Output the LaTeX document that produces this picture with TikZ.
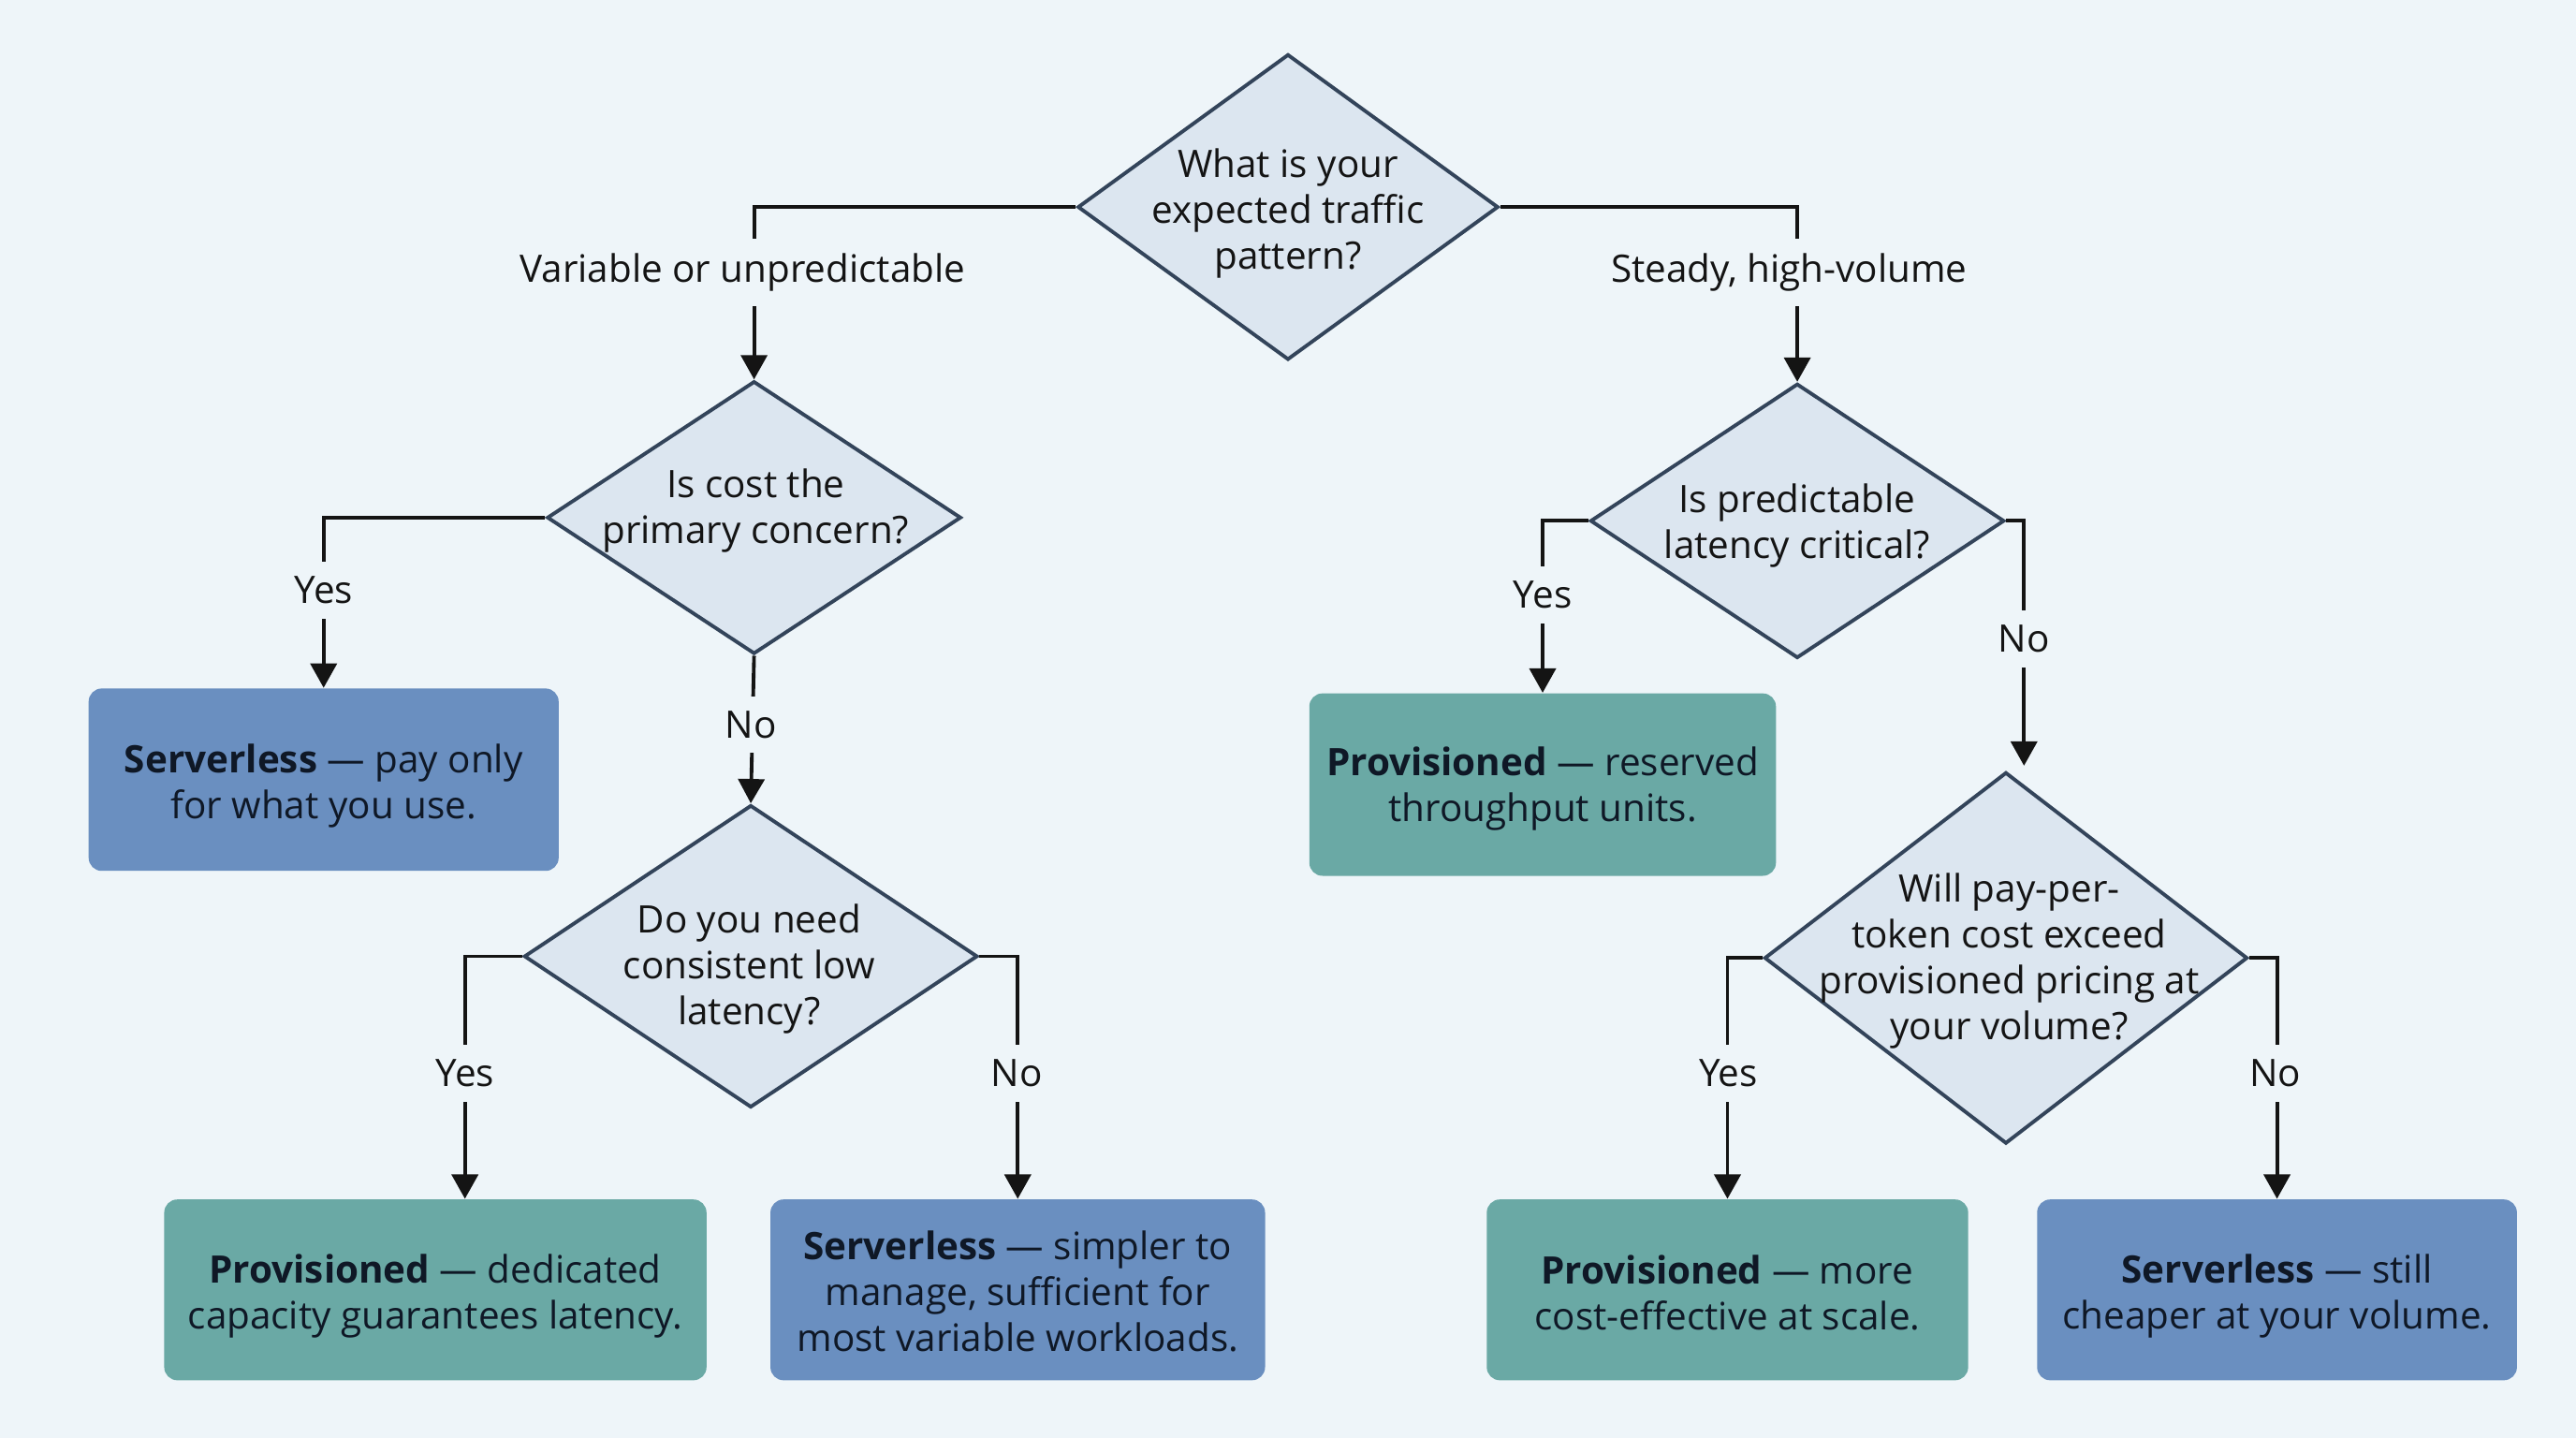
\documentclass[tikz,border=0pt]{standalone}
\usepackage{fontspec}
\setmainfont{Open Sans}
\usetikzlibrary{shapes.geometric,arrows.meta,calc}
\definecolor{bg}{HTML}{EEF5F9}
\definecolor{dfill}{HTML}{DCE6F0}
\definecolor{dline}{HTML}{33445A}
\definecolor{bluebox}{HTML}{6A8FC0}
\definecolor{tealbox}{HTML}{6AA9A5}
\definecolor{ink}{HTML}{141414}
\definecolor{boxink}{HTML}{0F1826}
\newcommand{\lowtext}[2]{\raisebox{-#1}[\height][\depth]{\begin{tabular}{@{}c@{}}#2\end{tabular}}}
\begin{document}
\begin{tikzpicture}[x=0.017551cm,y=-0.017551cm,
  font=\fontsize{11.5}{13.95}\selectfont,
  dia/.style={diamond, draw=dline, fill=dfill, line width=1.1pt, inner sep=0pt},
  dtext/.style={align=center, text=ink, inner sep=0pt},
  res/.style={rounded corners=0.14cm, inner sep=0pt, align=center, text=boxink},
  sb/.style={res, fill=bluebox},
  pb/.style={res, fill=tealbox},
  conn/.style={draw=ink, line width=1.1pt, -{Triangle[length=0.26cm,width=0.28cm]}},
  lab/.style={fill=bg, inner xsep=2pt, inner ysep=4.5pt, text=ink}]
\fill[bg] (0,0) rectangle (1568,875);
\useasboundingbox (0,0) rectangle (1568,875);
% decisions
\node[dia, minimum width=4.493cm, minimum height=3.264cm] (D1) at (784,126) {};
\node[dtext] (T1) at (784,130) {What is your\\expected traffic\\pattern?};
\node[dia, minimum width=4.423cm, minimum height=2.913cm] (D2) at (459,315) {};
\node[dtext] (T2) at (460,311) {Is cost the\\primary concern?};
\node[dia, minimum width=4.423cm, minimum height=2.931cm] (D3) at (1094,317) {};
\node[dtext] (T3) at (1094,320) {Is predictable\\latency critical?};
\node[dia, minimum width=4.844cm, minimum height=3.229cm] (D4) at (457,582) {};
\node[dtext] (T4) at (456,589.5) {Do you need\\consistent low\\latency?};
\node[dia, minimum width=5.160cm, minimum height=3.967cm] (D5) at (1221,583) {};
\node[dtext] (T5) at (1223,585) {Will pay-per-\\token cost exceed\\provisioned pricing at\\your volume?};
% results
\node[sb, minimum width=5.020cm, minimum height=1.948cm] (B1) at (197,474.5) {\lowtext{2pt}{\textbf{Serverless} — pay only\\for what you use.}};
\node[pb, minimum width=5.792cm, minimum height=1.931cm] (B2) at (265,785) {\lowtext{2pt}{\textbf{Provisioned} — dedicated\\capacity guarantees latency.}};
\node[sb, minimum width=5.283cm, minimum height=1.931cm] (B3) at (619.5,785) {\lowtext{2pt}{\textbf{Serverless} — simpler to\\manage, sufficient for\\most variable workloads.}};
\node[pb, minimum width=4.984cm, minimum height=1.948cm] (B4) at (939,477.5) {\lowtext{1.5pt}{\textbf{Provisioned} — reserved\\throughput units.}};
\node[pb, minimum width=5.142cm, minimum height=1.931cm] (B5) at (1051.5,785) {\lowtext{2.5pt}{\textbf{Provisioned} — more\\cost-effective at scale.}};
\node[sb, minimum width=5.125cm, minimum height=1.931cm] (B6) at (1386,785) {\lowtext{2pt}{\textbf{Serverless} — still\\cheaper at your volume.}};
% connectors
\draw[conn] (D1.west) -| (D2.north);
\draw[conn] (D1.east) -| (D3.north);
\draw[conn] (D2.west) -| (B1.north);
\draw[conn] (D2.south) -- (D4.north);
\draw[conn] (D4.west) -| ([xshift=0.316cm]B2.north);
\draw[conn] (D4.east) -| (B3.north);
\draw[conn] (D3.west) -| (B4.north);
\draw[conn] (D3.east) -| ([xshift=0.193cm,yshift=0.05cm]D5.north);
\draw[conn] (D5.west) -| (B5.north);
\draw[conn] (D5.east) -| (B6.north);
% labels
\node[lab] (L1) at (452,166) {Variable or unpredictable};
\node[lab] (L2) at (1089,166) {Steady, high-volume};
\node[lab] (L3) at (197,359) {Yes};
\node[lab] (L4) at (457,441) {No};
\node[lab] (L5) at (283,653) {Yes};
\node[lab] (L6) at (619,653) {No};
\node[lab] (L7) at (939,362) {Yes};
\node[lab] (L8) at (1232,389) {No};
\node[lab] (L9) at (1052,653) {Yes};
\node[lab] (L10) at (1385,653) {No};
\end{tikzpicture}
\end{document}
